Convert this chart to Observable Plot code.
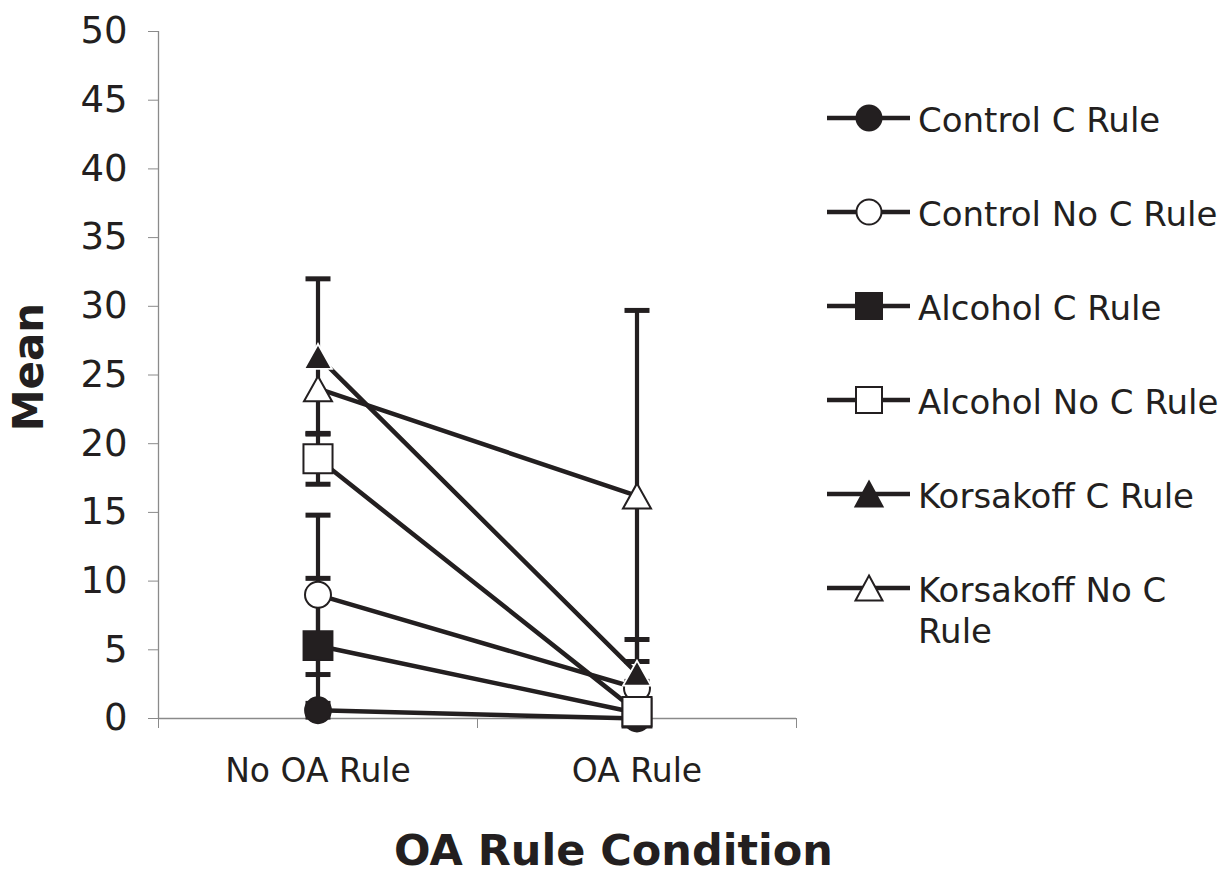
<!DOCTYPE html>
<html>
<head>
<meta charset="utf-8">
<script src="https://cdn.jsdelivr.net/npm/d3@7"></script>
<script src="https://cdn.jsdelivr.net/npm/@observablehq/plot@0.6"></script>
<style>
  html, body { margin: 0; padding: 0; background: #fff; }
  #wrap { position: relative; width: 1223px; height: 894px; font-family: "DejaVu Sans", Verdana, sans-serif; color: #231f20; }
  .leg-item { position: absolute; }
  .leg-text { position: absolute; font-size: 34px; line-height: 41px; white-space: nowrap; }
</style>
</head>
<body>
<div id="wrap"></div>
<script>
// ---- data ----
const conditions = ["No OA Rule", "OA Rule"];
const series = ["Control C Rule", "Control No C Rule", "Alcohol C Rule", "Alcohol No C Rule", "Korsakoff C Rule", "Korsakoff No C Rule"];
const meanNoOA = [0.6, 9.0, 5.3, 18.9, 26.35, 24.0];
const meanOA   = [0.0, 2.2, 0.4, 0.5, 3.3, 16.2];
const errNoOA  = [0.5, 5.8, 4.9, 1.85, 5.65, 0.0];
const errOA    = [0.0, 1.95, 0.3, 0.3, 2.45, 13.5];
const yTicks = [0, 5, 10, 15, 20, 25, 30, 35, 40, 45, 50];
const symbols = ["circle", "circle", "square", "square", "triangle", "triangle"];
const filled  = [true, false, true, false, true, false];

const ink = "#231f20";
const axisGray = "#8a8a8a";

const rows = [];
series.forEach((s, i) => {
  [meanNoOA, meanOA].forEach((arr, j) => {
    const err = j === 0 ? errNoOA[i] : errOA[i];
    rows.push({series: s, si: i, x: j + 0.5, mean: arr[i], err});
  });
});

const capSymbol = {
  draw(context) { context.moveTo(-12.5, 0); context.lineTo(12.5, 0); }
};
// triangle centred on its bounding box (as in the source chart)
const triSymbol = {
  draw(context) { context.moveTo(0, -12.5); context.lineTo(14, 12.5); context.lineTo(-14, 12.5); context.closePath(); }
};
const symFor = {circle: "circle", square: "square", triangle: triSymbol};
const rFor = {circle: 13, square: 16.4, triangle: 10};

const marks = [
  Plot.ruleY([0], {stroke: axisGray, strokeWidth: 1.3}),
  Plot.ruleX([0], {y1: 0, y2: 50, stroke: axisGray, strokeWidth: 1.3}),
  Plot.axisY({ticks: yTicks, tickSize: 10, tickPadding: 21, fontSize: 37, stroke: axisGray, fill: ink, label: null}),
  Plot.axisX({ticks: [0, 1, 2], tickSize: 10, tickFormat: () => "", stroke: axisGray, label: null}),
  Plot.axisX({ticks: [0.5, 1.5], tickSize: 0, tickPadding: 40, fontSize: 33, fill: ink,
    tickFormat: d => conditions[Math.floor(d)], label: null}),
  Plot.text(["Mean"], {frameAnchor: "left", textAnchor: "middle", dx: -129, dy: -8, rotate: -90, fontSize: 42, fontWeight: "bold", fill: ink}),
  Plot.text(["OA Rule Condition"], {frameAnchor: "bottom", textAnchor: "middle", dx: 136, dy: 146, lineAnchor: "bottom", fontSize: 43, fontWeight: "bold", fill: ink}),
  // error bars
  Plot.ruleX(rows.filter(d => d.err > 0), {x: "x", y1: d => d.mean - d.err, y2: d => d.mean + d.err, stroke: ink, strokeWidth: 4.2}),
  Plot.dot(rows.filter(d => d.err > 0), {x: "x", y: d => d.mean + d.err, symbol: capSymbol, r: 5, stroke: ink, strokeWidth: 5, fill: "none"}),
  Plot.dot(rows.filter(d => d.err > 0), {x: "x", y: d => d.mean - d.err, symbol: capSymbol, r: 5, stroke: ink, strokeWidth: 5, fill: "none"}),
  // lines
  Plot.line(rows, {x: "x", y: "mean", z: "series", stroke: ink, strokeWidth: 4.5}),
];
series.forEach((s, i) => {
  const sym = symbols[i];
  marks.push(Plot.dot(rows.filter(d => d.si === i), {
    x: "x", y: "mean", symbol: symFor[sym], r: rFor[sym],
    fill: filled[i] ? ink : "#fff",
    stroke: filled[i] ? (sym === "triangle" ? "#fff" : ink) : ink,
    strokeWidth: filled[i] ? 1.8 : 2
  }));
});

const chart = Plot.plot({
  width: 1223, height: 894,
  marginLeft: 158, marginRight: 427, marginTop: 31, marginBottom: 176,
  style: {fontFamily: '"DejaVu Sans", Verdana, sans-serif', background: "#fff", overflow: "visible"},
  x: {type: "linear", domain: [0, 2], axis: null},
  y: {domain: [0, 50], axis: null},
  marks
});
const wrap = document.getElementById("wrap");
wrap.appendChild(chart);

// ---- legend ----
const legTop = 118, legStep = 94;
series.forEach((s, i) => {
  const cy = legTop + i * legStep;
  const svg = d3.create("svg").attr("width", 90).attr("height", 40)
    .attr("class", "leg-item").style("left", "826px").style("top", (cy - 20) + "px");
  svg.append("line").attr("x1", 1).attr("x2", 84).attr("y1", 20).attr("y2", 20)
    .attr("stroke", ink).attr("stroke-width", 4.5);
  const sym = symbols[i];
  let d;
  if (sym === "circle") d = d3.symbol(d3.symbolCircle, Math.PI * 12.5 * 12.5)();
  else if (sym === "square") d = d3.symbol(d3.symbolSquare, 26 * 26)();
  else d = "M0,-12.5L13.5,12.5L-13.5,12.5Z";
  svg.append("path").attr("d", d)
    .attr("transform", `translate(43,20)`)
    .attr("fill", filled[i] ? ink : "#fff").attr("stroke", ink).attr("stroke-width", 2);
  wrap.appendChild(svg.node());
  const t = document.createElement("div");
  t.className = "leg-text";
  t.style.left = "918px";
  t.style.top = (cy - 18) + "px";
  if (i === series.length - 1) { t.style.whiteSpace = "normal"; t.style.width = "260px"; }
  t.textContent = s;
  wrap.appendChild(t);
});
</script>
</body>
</html>
